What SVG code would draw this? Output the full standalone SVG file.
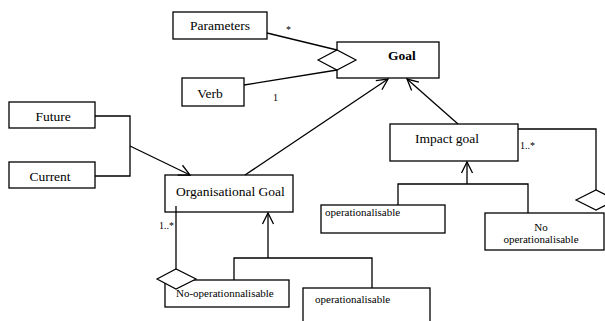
<svg xmlns="http://www.w3.org/2000/svg" width="605" height="321" viewBox="0 0 605 321">
<style>
.box{fill:#fff;stroke:#000;stroke-width:1.3}
.ln{fill:none;stroke:#000;stroke-width:1.3}
.dia{fill:#fff;stroke:#000;stroke-width:1.2}
.t{font-size:13.5px}
.s{font-size:11px}
.m{font-size:10px}
</style>
<defs>
<marker id="open" markerUnits="userSpaceOnUse" markerWidth="14" markerHeight="14" viewBox="-12 -7 14 14" refX="0" refY="0" orient="auto" overflow="visible">
<path d="M-11,-5.5 L0,0 L-11,5.5" fill="none" stroke="#000" stroke-width="1.3"/>
</marker>
</defs>
<g font-family="Liberation Serif, Times New Roman, Times, serif" fill="#000">
<g id="parameters"><rect class="box" x="173" y="12" width="94" height="27"/><text class="t" x="220" y="30" text-anchor="middle">Parameters</text></g>
<g id="verb"><rect class="box" x="182" y="78" width="62" height="28"/><text class="t" x="210" y="98" text-anchor="middle">Verb</text></g>
<g id="goal"><rect class="box" x="337" y="42" width="102" height="36"/><text class="t" x="388" y="60" font-weight="bold" font-size="13">Goal</text></g>
<g id="future"><rect class="box" x="9" y="102" width="86" height="26"/><text class="t" x="53" y="121" text-anchor="middle">Future</text></g>
<g id="current"><rect class="box" x="9" y="162" width="86" height="26"/><text class="t" x="50" y="181" text-anchor="middle">Current</text></g>
<g id="org-goal"><rect class="box" x="165" y="175" width="128" height="37"/><text class="t" x="176" y="195.5">Organisational Goal</text></g>
<g id="impact-goal"><rect class="box" x="390" y="124" width="128" height="37"/><text class="t" x="415" y="143">Impact goal</text></g>
<g id="impact-oper"><rect class="box" x="321" y="205" width="124" height="28"/><text class="s" x="325" y="216">operationalisable</text></g>
<g id="impact-nooper"><rect class="box" x="485" y="213" width="119" height="37"/><text class="s" x="541" y="231" text-anchor="middle">No</text><text class="s" x="541" y="243" text-anchor="middle">operationalisable</text></g>
<g id="org-nooper"><rect class="box" x="165" y="280" width="124" height="27"/><text class="s" x="176" y="297">No-operationnalisable</text></g>
<g id="org-oper"><rect class="box" x="303" y="288" width="127" height="50"/><text class="s" x="315" y="303">operationalisable</text></g>
<g id="connectors">
<line class="ln" x1="267" y1="33" x2="337" y2="50"/>
<line class="ln" x1="244" y1="85" x2="337" y2="70"/>
<polygon class="dia" points="318,60 337,50 356,60 337,70"/>
<text class="m" x="286" y="33">*</text>
<text class="m" x="273" y="101">1</text>
<polyline class="ln" points="95,116 130,116 130,176 95,176"/>
<line class="ln" x1="130" y1="146" x2="190" y2="175" marker-end="url(#open)"/>
<line class="ln" x1="245" y1="175" x2="388" y2="79" marker-end="url(#open)"/>
<line class="ln" x1="458" y1="124" x2="407" y2="79" marker-end="url(#open)"/>
<polyline class="ln" points="518,129 596,129 596,190"/>
<polygon class="dia" points="576,200 596,190 616,200 596,210"/>
<text class="m" x="520" y="149">1..*</text>
<line class="ln" x1="467" y1="184" x2="467" y2="162" marker-end="url(#open)"/>
<polyline class="ln" points="398,205 398,184 528,184 528,213"/>
<line class="ln" x1="268" y1="258" x2="268" y2="213" marker-end="url(#open)"/>
<polyline class="ln" points="234,280 234,258 372,258 372,288"/>
<line class="ln" x1="176" y1="206" x2="176" y2="269"/>
<polygon class="dia" points="157,279 176,269 196,279 176,289"/>
<text class="m" x="159" y="229">1..*</text>
</g>
</g>
</svg>
